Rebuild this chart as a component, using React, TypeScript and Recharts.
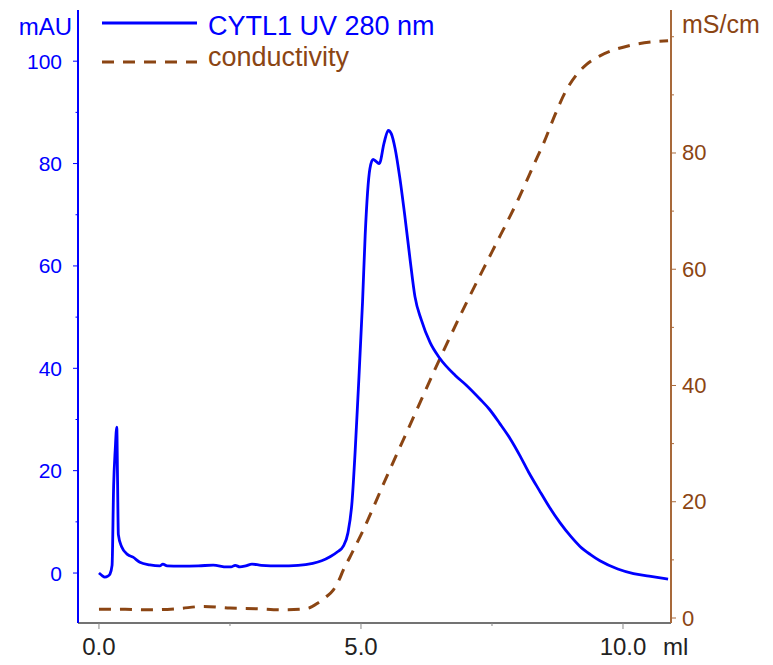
import React from "react";
import { LineChart, Line, XAxis, YAxis, Legend } from "recharts";

// UV 280 nm trace (ml, mAU)
const uvMl = [
  0, 0.06, 0.11, 0.17, 0.21, 0.25, 0.28, 0.31, 0.34, 0.355, 0.37, 0.43, 0.55, 0.65, 0.78, 0.97,
  1.16, 1.22, 1.3, 1.55, 1.9, 2.18, 2.44, 2.52, 2.6, 2.69, 2.8, 2.92, 3.1, 3.45, 3.8, 4.08,
  4.25, 4.41, 4.56, 4.66, 4.75, 4.83, 4.89, 4.94, 5.03, 5.08, 5.17, 5.23, 5.29, 5.35, 5.44,
  5.52, 5.58, 5.65, 5.74, 5.84, 5.94, 6.03, 6.15, 6.32, 6.5, 6.8, 7.0, 7.27, 7.45, 7.65, 7.85,
  8.03, 8.2, 8.4, 8.6, 8.8, 9.0, 9.18, 9.38, 9.56, 9.9, 10.2, 10.5, 10.86,
];
const uvMau = [
  0, -0.5, -0.8, -0.6, -0.2, 1.5, 17, 24, 28.5, 18, 7.5, 5.2, 3.6, 3.1, 2.1, 1.6,
  1.4, 1.75, 1.4, 1.35, 1.4, 1.55, 1.2, 1.2, 1.5, 1.2, 1.4, 1.75, 1.5, 1.4, 1.5, 1.9,
  2.4, 3.2, 4.2, 5.2, 7.8, 14, 24, 34, 53, 66, 79, 80.8, 80.4, 80, 84,
  86.5, 85.8, 83, 77.3, 69.5, 61, 54, 49.5, 45, 42, 38.6, 36.8, 34, 32, 29.2, 26.2,
  23, 19.7, 16.2, 12.8, 9.8, 7.2, 5.2, 3.6, 2.4, 0.8, -0.1, -0.6, -1.2,
];

// conductivity trace (ml, mS/cm)
const condMl = [
  0, 0.5, 1.0, 1.5, 2.0, 2.5, 3.0, 3.5, 3.84, 4.0, 4.18, 4.33, 4.47, 4.58, 4.66, 4.79,
  5.0, 5.5, 6.0, 6.5, 7.0, 7.5, 8.0, 8.3, 8.5, 8.7, 8.9, 9.1, 9.3, 9.56, 10.13, 10.86,
];
const condMs = [
  1.5, 1.5, 1.4, 1.6, 2.0, 1.7, 1.6, 1.4, 1.5, 1.7, 2.6, 3.6, 4.8, 6.5, 8.2, 10.5,
  14.3, 24.5, 34.5, 44.5, 54, 63, 72, 78, 82, 86.5, 90.5, 93.3, 95.2, 96.7, 98.5, 99.3,
];

const xTicks = [0, 2.5, 5, 7.5, 10];
const mauTicks = [0, 10, 20, 30, 40, 50, 60, 70, 80, 90, 100];
const msTicks = [0, 10, 20, 30, 40, 50, 60, 70, 80, 90, 100];

const BLUE = "#0000ff";
const BROWN = "#8b4513";
const BROWN_AXIS = "#a8693a";
const FONT = "'Liberation Sans', Arial, sans-serif";

const uvData = uvMl.map((ml, i) => ({ ml, uv: uvMau[i] }));
const condData = condMl.map((ml, i) => ({ ml, cond: condMs[i] }));

function LeftTick({ x, y, payload }: any) {
  const major = payload.value % 20 === 0;
  return (
    <g>
      <line x1={x - (major ? 5 : 2.5)} x2={x} y1={y} y2={y} stroke={BLUE} strokeWidth={1} />
      {major && (
        <text x={x - 16} y={y} textAnchor="end" dominantBaseline="central" fill={BLUE} fontSize={21} fontFamily={FONT}>
          {payload.value}
        </text>
      )}
    </g>
  );
}

function RightTick({ x, y, payload }: any) {
  const major = payload.value % 20 === 0 && payload.value < 100;
  return (
    <g>
      <line x1={x} x2={x + (major ? 5 : 3)} y1={y} y2={y} stroke={BROWN_AXIS} strokeWidth={1} />
      {major && (
        <text x={x + 11} y={y} textAnchor="start" dominantBaseline="central" fill={BROWN} fontSize={22} fontFamily={FONT}>
          {payload.value}
        </text>
      )}
    </g>
  );
}

function BottomTick({ x, y, payload }: any) {
  const major = payload.value % 5 === 0;
  return (
    <g>
      <line x1={x} x2={x} y1={y} y2={y + (major ? 6 : 3)} stroke="#888" strokeWidth={1} />
      {major && (
        <text x={x} y={y + 32} textAnchor="middle" fill="#222" fontSize={24} fontFamily={FONT}>
          {payload.value.toFixed(1)}
        </text>
      )}
    </g>
  );
}

function LegendBox() {
  return (
    <svg width={500} height={80} style={{ display: "block" }}>
      <line x1={102} x2={197} y1={23} y2={23} stroke={BLUE} strokeWidth={3} />
      <text x={208} y={35} fill={BLUE} fontSize={27} fontFamily={FONT}>
        CYTL1 UV 280 nm
      </text>
      <line x1={102} x2={197} y1={62} y2={62} stroke={BROWN} strokeWidth={3} strokeDasharray="12 9" />
      <text x={208} y={66} fill={BROWN} fontSize={27} fontFamily={FONT}>
        conductivity
      </text>
    </svg>
  );
}

export default function App() {
  return (
    <div style={{ position: "absolute", left: 0, top: 0, background: "#fff" }}>
      <LineChart width={773} height={665} margin={{ top: 10, right: 0, bottom: 0, left: 0 }}>
        <XAxis
          xAxisId="x"
          dataKey="ml"
          type="number"
          domain={[-0.4, 10.916]}
          allowDataOverflow
          ticks={xTicks}
          interval={0}
          height={42}
          tickSize={0}
          tickMargin={0}
          tickLine={false}
          tick={<BottomTick />}
          axisLine={{ stroke: "#444", strokeWidth: 1.5 }}
          label={{
            content: ({ viewBox }: any) => (
              <text x={viewBox.x + viewBox.width - 8} y={viewBox.y + 32} fill="#222" fontSize={24} fontFamily={FONT}>
                ml
              </text>
            ),
          }}
        />
        <YAxis
          yAxisId="left"
          orientation="left"
          type="number"
          domain={[-9.76, 110]}
          allowDataOverflow
          ticks={mauTicks}
          interval={0}
          width={78}
          tickSize={0}
          tickMargin={0}
          tickLine={false}
          tick={<LeftTick />}
          axisLine={{ stroke: BLUE, strokeWidth: 2 }}
          label={{
            content: ({ viewBox }: any) => (
              <text x={viewBox.x + viewBox.width - 6} y={viewBox.y + 25} textAnchor="end" fill={BLUE} fontSize={24} fontFamily={FONT}>
                mAU
              </text>
            ),
          }}
        />
        <YAxis
          yAxisId="right"
          orientation="right"
          type="number"
          domain={[-0.86, 104.6]}
          allowDataOverflow
          ticks={msTicks}
          interval={0}
          width={102}
          tickSize={0}
          tickMargin={0}
          tickLine={false}
          tick={<RightTick />}
          axisLine={{ stroke: BROWN_AXIS, strokeWidth: 2 }}
          label={{
            content: ({ viewBox }: any) => (
              <text x={viewBox.x + 11} y={viewBox.y + 23} textAnchor="start" fill={BROWN} fontSize={25} fontFamily={FONT}>
                mS/cm
              </text>
            ),
          }}
        />
        <Legend
          verticalAlign="middle"
          layout="horizontal"
          wrapperStyle={{ top: 0, left: 0, width: 500, height: 80 }}
          content={() => <LegendBox />}
        />
        <Line
          xAxisId="x"
          yAxisId="right"
          data={condData}
          dataKey="cond"
          type="monotone"
          stroke={BROWN}
          strokeWidth={3}
          strokeDasharray="12 9"
          dot={false}
          isAnimationActive={false}
        />
        <Line
          xAxisId="x"
          yAxisId="left"
          data={uvData}
          dataKey="uv"
          type="monotone"
          stroke={BLUE}
          strokeWidth={2.8}
          dot={false}
          isAnimationActive={false}
        />
      </LineChart>
    </div>
  );
}
